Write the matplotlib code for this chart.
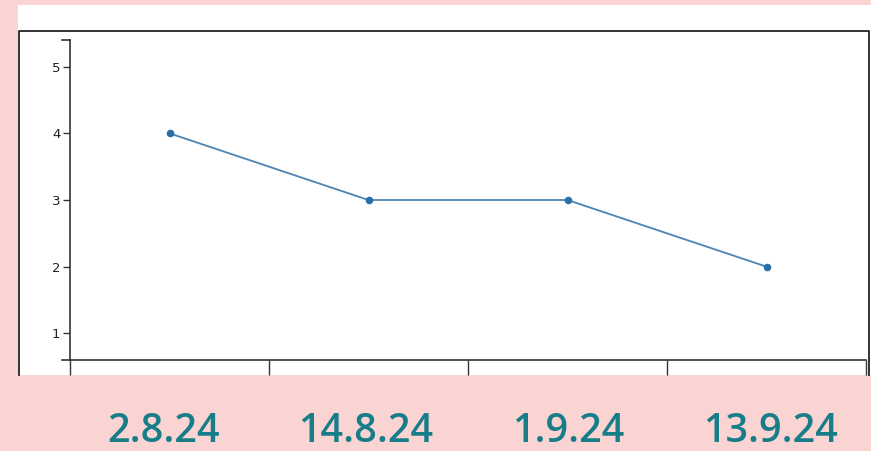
import matplotlib
matplotlib.use("Agg")
import matplotlib.pyplot as plt
from matplotlib.lines import Line2D
from matplotlib.patches import Rectangle

dates = ["2.8.24", "14.8.24", "1.9.24", "13.9.24"]
values = [4, 3, 3, 2]
y_ticks = [1, 2, 3, 4, 5]

W, H = 871, 451
fig = plt.figure(figsize=(W / 100, H / 100), dpi=100)
fig.patch.set_facecolor("#FAD4D2")

def fx(px):
    return px / W

def fy(py):
    return 1 - py / H

# white panel
fig.patches.append(Rectangle((fx(18), fy(375)), fx(871) - fx(18), fy(5) - fy(375),
                             transform=fig.transFigure, facecolor="white", edgecolor="none", zorder=-2))
# black border (top, left, right) clipped at bottom
border = Line2D([fx(18.5), fx(18.5), fx(868.5), fx(868.5)],
                [fy(375), fy(30.5), fy(30.5), fy(375)],
                transform=fig.transFigure, color="#222222", lw=1.3, zorder=-1)
fig.lines.append(border)

ax = fig.add_axes([fx(70), fy(360), fx(866) - fx(70), fy(40) - fy(360)])
ax.set_zorder(2)
ax.set_facecolor("none")
n = len(dates)
ax.set_xlim(0, n)
ax.set_ylim(0.6, 5.4)
for s in ["top", "right"]:
    ax.spines[s].set_visible(False)
for s in ["left", "bottom"]:
    ax.spines[s].set_color("#333333")
    ax.spines[s].set_linewidth(1.2)

ax.set_yticks(y_ticks)
ax.set_yticklabels([str(v) for v in y_ticks], fontsize=9.5, color="#222222")
ax.tick_params(axis="y", direction="out", length=5, width=1, color="#333333", pad=2)
ax.set_xticks(range(n + 1))
ax.set_xticklabels([])
ax.tick_params(axis="x", direction="out", length=11, width=1, color="#333333")

# outer ticks at ends of y domain
for yv in (0.6, 5.4):
    ax.plot([-0.04, 0], [yv, yv], color="#333333", lw=1.2, clip_on=False)

xs = [i + 0.5 for i in range(n)]
ax.plot(xs, values, color="#4a84b4", lw=1.3, zorder=3)
ax.scatter(xs, values, s=30, color="#2a6fa8", zorder=4, linewidths=0)

# date labels below the panel
for i, d in enumerate(dates):
    fig.text(fx(164 + 202 * i), fy(442), d, ha="center", va="baseline",
             fontsize=28.5, color="#177E89", family=["Open Sans", "DejaVu Sans"],
             weight="semibold")

fig.savefig("out.png", dpi=100, facecolor=fig.get_facecolor())
